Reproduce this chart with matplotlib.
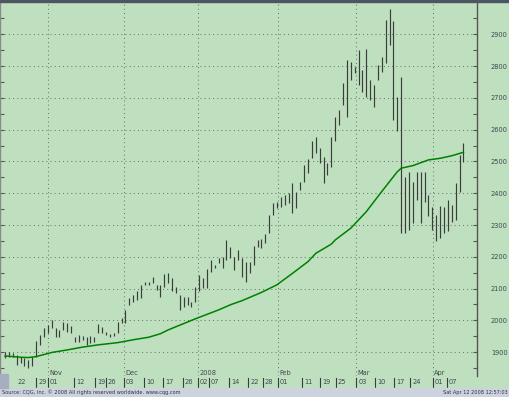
import matplotlib
matplotlib.use("Agg")
import matplotlib.pyplot as plt
from matplotlib.patches import Rectangle
from matplotlib.transforms import blended_transform_factory

# daily high / low (bar index 0 = Oct 22 2007)
highs = [1902, 1902, 1897, 1892, 1886, 1881, 1876, 1886, 1934, 1954,
         1975, 1986, 2002, 1975, 1970, 1996, 1991, 1981, 1949, 1954,
         1951, 1949, 1951, 1947, 1989, 1978, 1965, 1958, 1960, 1996,
         2007, 2033, 2070, 2080, 2091, 2112, 2122, 2122, 2138, 2112,
         2110, 2145, 2148, 2133, 2106, 2080, 2075, 2075, 2059, 2106,
         2143, 2133, 2161, 2190, 2174, 2195, 2201, 2253, 2232, 2201,
         2222, 2195, 2185, 2185, 2234, 2253, 2255, 2272, 2332, 2368,
         2374, 2389, 2395, 2400, 2431, 2405, 2437, 2489, 2507, 2566,
         2578, 2542, 2515, 2494, 2578, 2641, 2662, 2746, 2819, 2814,
         2798, 2851, 2788, 2853, 2756, 2741, 2804, 2830, 2945, 2979,
         2943, 2704, 2767, 2452, 2468, 2437, 2468, 2468, 2468, 2395,
         2358, 2332, 2360, 2358, 2379, 2363, 2432, 2521, 2559]
lows = [1881, 1886, 1884, 1860, 1865, 1855, 1850, 1855, 1886, 1923,
        1949, 1960, 1975, 1949, 1949, 1970, 1965, 1960, 1933, 1933,
        1939, 1923, 1928, 1933, 1960, 1960, 1954, 1949, 1951, 1960,
        1991, 1991, 2049, 2059, 2064, 2070, 2112, 2112, 2117, 2096,
        2075, 2104, 2117, 2091, 2085, 2033, 2043, 2049, 2043, 2059,
        2091, 2101, 2101, 2153, 2164, 2180, 2164, 2190, 2195, 2159,
        2190, 2138, 2122, 2148, 2174, 2232, 2227, 2243, 2274, 2332,
        2353, 2358, 2363, 2368, 2337, 2353, 2411, 2437, 2463, 2510,
        2526, 2494, 2431, 2458, 2484, 2563, 2615, 2678, 2641, 2756,
        2777, 2741, 2720, 2704, 2694, 2673, 2756, 2783, 2809, 2866,
        2631, 2597, 2274, 2274, 2285, 2306, 2379, 2308, 2374, 2327,
        2285, 2251, 2259, 2274, 2280, 2311, 2316, 2405, 2497]

# moving average line (green), read at a few bar positions
ma_idx = [0, 4, 6, 8, 12, 16, 20, 24, 29, 33, 37, 40, 42, 49, 55, 58, 61, 66,
          70, 74, 78, 80, 84, 85, 89, 93, 96, 99, 101, 102, 105, 109, 112, 115, 118]
ma_val = [1888, 1884, 1883, 1886, 1899, 1907, 1916, 1923, 1930, 1939, 1947,
          1958, 1970, 2005, 2033, 2049, 2062, 2088, 2112, 2148, 2185, 2211,
          2240, 2253, 2290, 2342, 2390, 2437, 2468, 2479, 2487, 2505, 2510,
          2518, 2529]

day_labels = ["22", "29", "01", "12", "19", "26", "03", "10", "17", "26", "02",
              "07", "14", "22", "28", "01", "11", "19", "25", "03", "10", "17",
              "24", "01", "07"]
day_pos = [2.6, 8.0, 11.1, 17.8, 23.2, 26.0, 30.6, 35.8, 40.7, 45.8, 49.7,
           52.5, 57.7, 62.6, 66.4, 70.3, 76.5, 81.1, 85.2, 90.4, 95.3, 100.2,
           104.3, 110.2, 113.8]
month_labels = ["Nov", "Dec", "2008", "Feb", "Mar", "Apr"]
month_pos = [11.1, 30.6, 49.7, 70.3, 90.4, 110.2]

GREEN = "#bee0bf"
W, H = 510, 397

fig = plt.figure(figsize=(W / 100, H / 100), dpi=100)
fig.patch.set_facecolor(GREEN)

ax = fig.add_axes([0, (H - 376) / H, 477 / W, 375 / H])
ax.set_facecolor(GREEN)
ax.set_xlim(-1.29, 121.5)
ax.set_ylim(1825, 3005)

# grid
ax.set_yticks(range(1900, 3000, 100))
ax.set_yticks(range(1850, 3000, 100), minor=True)
ax.grid(axis="y", which="major", linestyle=(0, (1, 3)), color="#6f7a70", lw=0.75)
for p in month_pos:
    ax.axvline(p, linestyle=(0, (1, 3)), color="#6f7a70", lw=0.75)

# bars
ax.vlines(range(len(highs)), lows, highs, color="#3c3c3c", lw=0.85)
ax.plot(ma_idx, ma_val, color="#008000", lw=1.1)

ax.set_xticks([])
ax.yaxis.tick_right()
ax.tick_params(axis="y", which="both", direction="in", right=True, left=True,
               labelleft=False, color="#555555", length=3, width=0.8)
ax.tick_params(axis="y", which="major", labelsize=4.8, labelcolor="#404850", pad=10)

for s in ["bottom"]:
    ax.spines[s].set_visible(False)
ax.spines["top"].set_visible(False)
ax.spines["right"].set_color("#555555")
ax.spines["right"].set_linewidth(1.0)
ax.spines["left"].set_color("#8a8a8a")
ax.spines["left"].set_linewidth(1.0)

# date band
tr = blended_transform_factory(ax.transData, fig.transFigure)
for lab, p in zip(month_labels, month_pos):
    ax.text(p + 0.3, 1 - 373 / H, lab, transform=tr, fontsize=4.8,
            color="#404850", va="center", ha="left", clip_on=False)
for i, (lab, p) in enumerate(zip(day_labels, day_pos)):
    if i > 0:
        ax.plot([p, p], [1 - 377.5 / H, 1 - 386.5 / H], transform=tr,
                color="#3c3c3c", lw=0.8, clip_on=False)
    ax.text(p + 0.5, 1 - 381.5 / H, lab, transform=tr, fontsize=4.8,
            color="#404850", va="center", ha="left", clip_on=False)

# top border, footer, corner box
fig.patches.append(Rectangle((0, 1 - 2 / H), 1, 2 / H, transform=fig.transFigure,
                             color="#4c5662", zorder=5))
fig.patches.append(Rectangle((0, 0), 1, 9 / H, transform=fig.transFigure,
                             color="#ccd3de", zorder=5))
fig.patches.append(Rectangle((0, 9 / H), 8 / W, 14 / H, transform=fig.transFigure,
                             color="#a6aec4", zorder=5))

fig.text(2 / W, 4.5 / H, "Source: CQG, Inc. © 2008 All rights reserved worldwide. www.cqg.com",
         fontsize=3.6, color="#303040", va="center", ha="left", zorder=6)
fig.text(508 / W, 4.5 / H, "Sat Apr 12 2008 12:57:03", fontsize=3.6,
         color="#303040", va="center", ha="right", zorder=6)

fig.savefig("out.png", dpi=100, facecolor=GREEN)
